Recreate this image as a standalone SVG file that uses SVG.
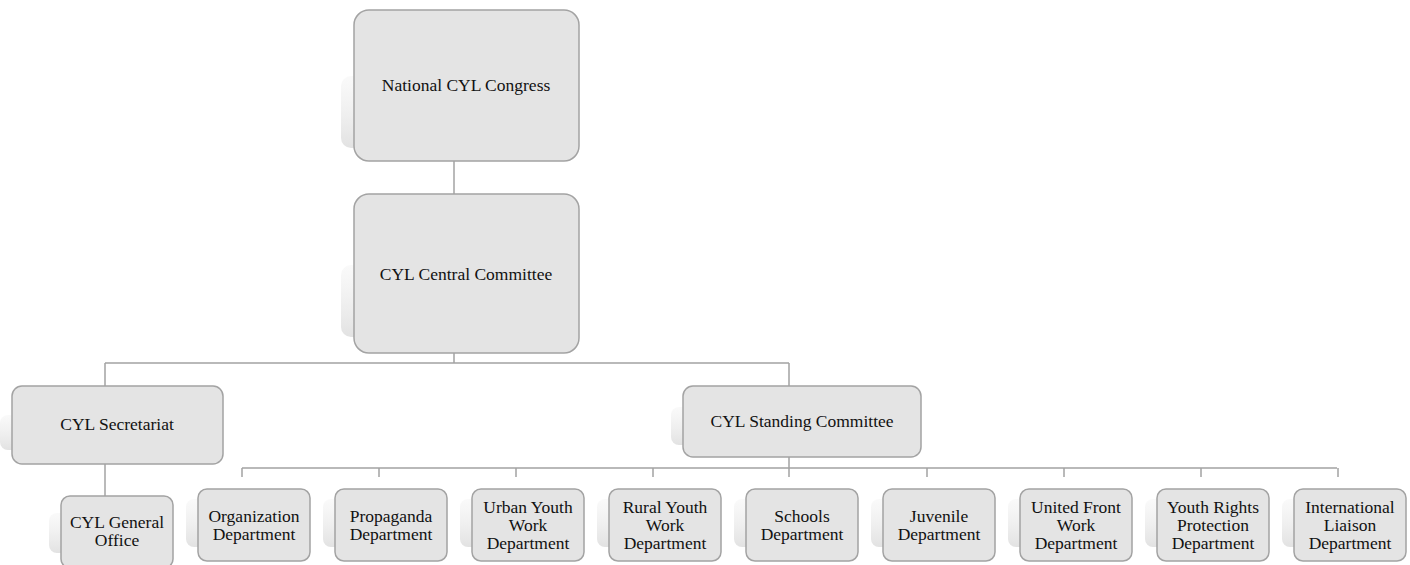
<svg xmlns="http://www.w3.org/2000/svg" width="1410" height="565" viewBox="0 0 1410 565">
<defs>
<linearGradient id="sh" x1="0" y1="0" x2="0" y2="1">
<stop offset="0" stop-color="#f6f6f6" stop-opacity="0.6"/>
<stop offset="1" stop-color="#e2e2e2"/>
</linearGradient>
<style>
.box{fill:#e4e4e4;stroke:#a3a3a3;stroke-width:1.5}
.sh{fill:url(#sh)}
.t{font-family:"Liberation Serif","Times New Roman",serif;font-size:17.5px;fill:#111;text-anchor:middle}
.c{stroke:#a3a3a3;stroke-width:1.5;fill:none}
</style>
</defs>
<rect width="1410" height="565" fill="#ffffff"/>
<g id="connectors">
<path class="c" d="M454 161V194"/>
<path class="c" d="M454 353V363M105 363H789M105 363V386M789 363V386"/>
<path class="c" d="M105 464V496"/>
<path class="c" d="M789 457V477M242 468H1337M242 468V477M379 468V477M516 468V477M653 468V477M927 468V477M1064 468V477M1201 468V477M1338 468V477"/>
</g>
<g id="national">
<rect class="sh" x="341" y="76" width="226" height="72" rx="10"/>
<rect class="box" x="354" y="10" width="225" height="151" rx="15"/>
<text class="t" x="466" y="91">National CYL Congress</text>
</g>
<g id="central">
<rect class="sh" x="341" y="265" width="226" height="72" rx="10"/>
<rect class="box" x="354" y="194" width="225" height="159" rx="15"/>
<text class="t" x="466" y="280">CYL Central Committee</text>
</g>
<g id="secretariat">
<rect class="sh" x="0" y="415" width="210" height="35" rx="8"/>
<rect class="box" x="12" y="386" width="211" height="78" rx="10"/>
<text class="t" x="117" y="430">CYL Secretariat</text>
</g>
<g id="standing">
<rect class="sh" x="671" y="407" width="238" height="38" rx="8"/>
<rect class="box" x="683" y="386" width="238" height="71" rx="10"/>
<text class="t" x="802" y="427">CYL Standing Committee</text>
</g>
<g id="general-office">
<rect class="sh" x="49" y="513" width="112" height="40" rx="8"/>
<rect class="box" x="61" y="496" width="112" height="72" rx="9"/>
<text class="t" x="117" y="528">CYL General</text>
<text class="t" x="117" y="546">Office</text>
</g>
<g id="organization">
<rect class="sh" x="186" y="499" width="112" height="48" rx="8"/>
<rect class="box" x="198" y="489" width="112" height="72" rx="9"/>
<text class="t" x="254" y="522">Organization</text>
<text class="t" x="254" y="540">Department</text>
</g>
<g id="propaganda">
<rect class="sh" x="323" y="499" width="112" height="48" rx="8"/>
<rect class="box" x="335" y="489" width="112" height="72" rx="9"/>
<text class="t" x="391" y="522">Propaganda</text>
<text class="t" x="391" y="540">Department</text>
</g>
<g id="urban">
<rect class="sh" x="460" y="499" width="112" height="48" rx="8"/>
<rect class="box" x="472" y="489" width="112" height="72" rx="9"/>
<text class="t" x="528" y="513">Urban Youth</text>
<text class="t" x="528" y="531">Work</text>
<text class="t" x="528" y="549">Department</text>
</g>
<g id="rural">
<rect class="sh" x="597" y="499" width="112" height="48" rx="8"/>
<rect class="box" x="609" y="489" width="112" height="72" rx="9"/>
<text class="t" x="665" y="513">Rural Youth</text>
<text class="t" x="665" y="531">Work</text>
<text class="t" x="665" y="549">Department</text>
</g>
<g id="schools">
<rect class="sh" x="734" y="499" width="112" height="48" rx="8"/>
<rect class="box" x="746" y="489" width="112" height="72" rx="9"/>
<text class="t" x="802" y="522">Schools</text>
<text class="t" x="802" y="540">Department</text>
</g>
<g id="juvenile">
<rect class="sh" x="871" y="499" width="112" height="48" rx="8"/>
<rect class="box" x="883" y="489" width="112" height="72" rx="9"/>
<text class="t" x="939" y="522">Juvenile</text>
<text class="t" x="939" y="540">Department</text>
</g>
<g id="united-front">
<rect class="sh" x="1008" y="499" width="112" height="48" rx="8"/>
<rect class="box" x="1020" y="489" width="112" height="72" rx="9"/>
<text class="t" x="1076" y="513">United Front</text>
<text class="t" x="1076" y="531">Work</text>
<text class="t" x="1076" y="549">Department</text>
</g>
<g id="youth-rights">
<rect class="sh" x="1145" y="499" width="112" height="48" rx="8"/>
<rect class="box" x="1157" y="489" width="112" height="72" rx="9"/>
<text class="t" x="1213" y="513">Youth Rights</text>
<text class="t" x="1213" y="531">Protection</text>
<text class="t" x="1213" y="549">Department</text>
</g>
<g id="international">
<rect class="sh" x="1282" y="499" width="112" height="48" rx="8"/>
<rect class="box" x="1294" y="489" width="112" height="72" rx="9"/>
<text class="t" x="1350" y="513">International</text>
<text class="t" x="1350" y="531">Liaison</text>
<text class="t" x="1350" y="549">Department</text>
</g>
</svg>
